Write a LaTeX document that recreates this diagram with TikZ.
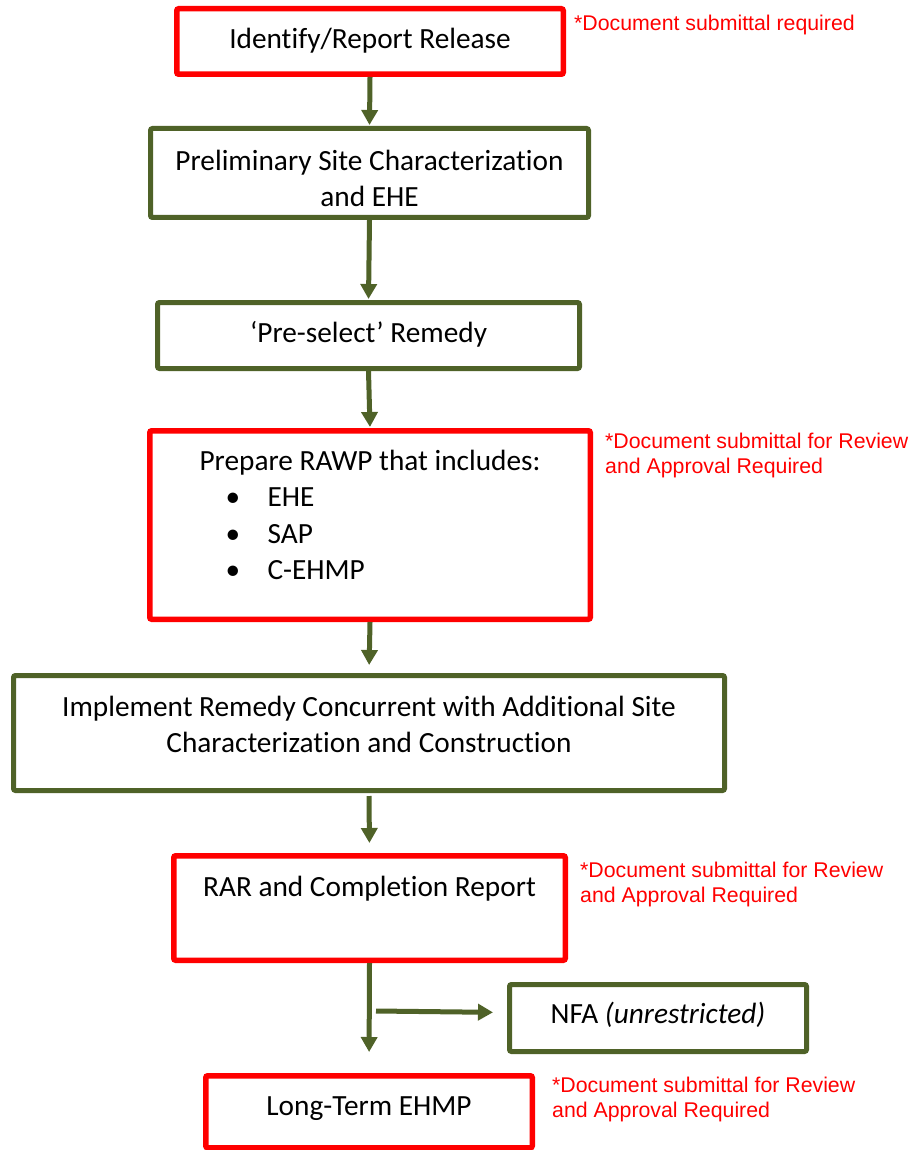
\documentclass[tikz,border=0pt]{standalone}
\usepackage{fontspec}
\setmainfont{Carlito}[Ligatures=NoCommon]
\newfontfamily\annfont{Liberation Sans}
\usetikzlibrary{arrows.meta}
\definecolor{boxgreen}{RGB}{79,98,40}
\definecolor{boxred}{RGB}{255,0,0}
\newcommand\bt[3]{\raisebox{0pt}[\dimexpr\height+#1\relax][\dimexpr\depth+#2\relax]{\setlength\tabcolsep{0pt}\begin{tabular}{c}#3\end{tabular}}}
\tikzset{
  box/.style={draw, rectangle, rounded corners=2pt, inner sep=0pt, font=\fontsize{29.3}{36.5}\selectfont},
  redbox/.style={box, draw=boxred, line width=5.5pt},
  greenbox/.style={box, draw=boxgreen, line width=5pt},
  note/.style={text=boxred, font=\annfont\fontsize{21.3}{25}\selectfont, align=left, anchor=north west, inner sep=0pt},
  arr/.style={draw=boxgreen, line width=5pt, -{Triangle[length=15pt,width=16pt]}}
}
\begin{document}
\begin{tikzpicture}[x=1pt,y=-1pt]
\useasboundingbox (0,0) rectangle (912,1150);
\node[redbox, minimum width=386.5pt, minimum height=65.5pt] (n1) at (370,41.5) {\bt{0pt}{0pt}{Identify/Report Release}};
\node[greenbox, minimum width=438pt, minimum height=87pt] (n2) at (369.5,173) {\bt{16pt}{0pt}{Preliminary Site Characterization\\and EHE}};
\node[greenbox, minimum width=422pt, minimum height=66pt] (n3) at (368.5,335.5) {\bt{0pt}{1pt}{‘Pre-select’ Remedy}};
\node[redbox, minimum width=440.5pt, minimum height=188.5pt] (n4) at (370,525) {\raisebox{0pt}[\height][\dimexpr\depth+15pt\relax]{\setlength\tabcolsep{0pt}\begin{tabular}{l}\multicolumn{1}{c}{Prepare RAWP that includes:}\\
\hspace*{26pt}\makebox[42pt][l]{\textbullet}EHE\\
\hspace*{26pt}\makebox[42pt][l]{\textbullet}SAP\\
\hspace*{26pt}\makebox[42pt][l]{\textbullet}C-EHMP\end{tabular}}};
\node[greenbox, minimum width=711pt, minimum height=115pt] (n5) at (369,733) {\bt{0pt}{12pt}{Implement Remedy Concurrent with Additional Site\\Characterization and Construction}};
\node[redbox, minimum width=391.5pt, minimum height=104.5pt] (n6) at (369.5,908) {\bt{0pt}{38pt}{RAR and Completion Report}};
\node[greenbox, minimum width=297pt, minimum height=67pt] (n7) at (658,1018) {\bt{0pt}{4pt}{NFA \textit{(unrestricted)}}};
\node[redbox, minimum width=326.5pt, minimum height=72pt] (n8) at (369,1111.75) {\bt{0pt}{8pt}{Long-Term EHMP}};

\node[note] (a1) at (574,14.5) {*Document submittal required};
\node[note] (a4) at (605,432.5) {*Document submittal for Review\\and Approval Required};
\node[note] (a6) at (580,861.5) {*Document submittal for Review\\and Approval Required};
\node[note] (a8) at (552,1076.5) {*Document submittal for Review\\and Approval Required};

\draw[arr, shorten >=1pt] (n1.south) -- (n2.north);
\draw[arr, shorten >=1pt] (n2.south) -- (n3.north);
\draw[arr, shorten >=1pt] (n3.south) -- (n4.north);
\draw[arr, shorten >=8pt] (n4.south) -- (n5.north);
\draw[arr, shorten <=3pt, shorten >=10pt] (n5.south) -- (n6.north);
\draw[arr, shorten >=21pt] (n6.south) -- (n8.north);
\coordinate (jn) at (376,1011);
\draw[arr, shorten >=14pt] (jn) -- ([yshift=5.5pt]n7.west);
\end{tikzpicture}
\end{document}
